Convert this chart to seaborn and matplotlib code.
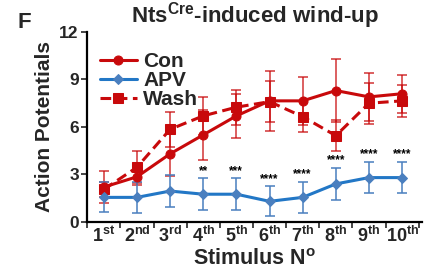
import matplotlib
matplotlib.use("Agg")
import matplotlib.pyplot as plt
import numpy as np
import pandas as pd
import seaborn as sns

sns.set_theme(style="ticks")
plt.rcParams["font.family"] = ["Liberation Sans", "DejaVu Sans"]
plt.rcParams["font.weight"] = "bold"
plt.rcParams["mathtext.fontset"] = "custom"
plt.rcParams["mathtext.rm"] = "Liberation Sans:bold"
plt.rcParams["mathtext.bf"] = "Liberation Sans:bold"
plt.rcParams["mathtext.it"] = "Liberation Sans:bold"
plt.rcParams["mathtext.default"] = "rm"

# ---- data ----
stim = list(range(1, 11))
tick_labels = ["1$^{st}$", "2$^{nd}$", "3$^{rd}$", "4$^{th}$", "5$^{th}$",
               "6$^{th}$", "7$^{th}$", "8$^{th}$", "9$^{th}$", "10$^{th}$"]
con_mean = [2.2, 2.85, 4.3, 5.5, 6.7, 7.65, 7.65, 8.3, 7.9, 8.1]
con_sem = [1.0, 0.5, 1.4, 1.6, 1.4, 1.9, 1.5, 2.0, 1.5, 1.2]
apv_mean = [1.55, 1.55, 1.95, 1.75, 1.75, 1.3, 1.55, 2.4, 2.8, 2.8]
apv_sem = [0.95, 1.0, 1.0, 1.0, 1.0, 0.95, 1.0, 1.0, 1.0, 1.0]
wash_mean = [2.05, 3.45, 5.85, 6.7, 7.25, 7.6, 6.65, 5.45, 7.5, 7.65]
wash_sem = [0.5, 1.0, 1.1, 1.2, 1.1, 1.3, 1.0, 1.0, 1.3, 1.0]
stars = ["", "", "", "**", "***", "****", "****", "****", "****", "****"]

RED = "#c8090b"
BLUE = "#2277c6"
BLUE_M = "#4a7fbf"

df = pd.DataFrame({"stim": stim * 3,
                   "ap": con_mean + apv_mean + wash_mean,
                   "grp": ["Con"] * 10 + ["APV"] * 10 + ["Wash"] * 10})

fig = plt.figure(figsize=(4.36, 2.76), dpi=100)
ax = fig.add_axes([0.2, 0.196, 0.768, 0.688])

# error bars first
ebkw = dict(fmt="none", elinewidth=1.3, capsize=3.5, capthick=1.3, zorder=2)
ax.errorbar(stim, con_mean, yerr=con_sem, ecolor=RED, alpha=0.7, **ebkw)
ax.errorbar(stim, wash_mean, yerr=wash_sem, ecolor=RED, alpha=0.7, **ebkw)
ax.errorbar(stim, apv_mean, yerr=apv_sem, ecolor=BLUE_M, alpha=0.85, **ebkw)

sns.lineplot(data=df[df.grp == "Con"], x="stim", y="ap", ax=ax, color=RED,
             lw=2.2, marker="o", ms=6.5, mec=RED, label="Con", zorder=4)
sns.lineplot(data=df[df.grp == "APV"], x="stim", y="ap", ax=ax, color=BLUE,
             lw=2.2, marker="D", ms=5.5, mfc=BLUE_M, mec=BLUE_M, label="APV", zorder=4)
sns.lineplot(data=df[df.grp == "Wash"], x="stim", y="ap", ax=ax, color=RED,
             lw=2.2, marker="s", ms=6.5, mec=RED, label="Wash", zorder=3)
ax.lines[-1].set_dashes([3.5, 1.8])

for x, m, e, s in zip(stim, apv_mean, apv_sem, stars):
    if s:
        ax.text(x, m + e + 0.1, s, ha="center", va="bottom", fontsize=8.5,
                fontweight="bold", color="black")

ax.set_xlim(0.5, 10.6)
ax.set_ylim(0, 12)
ax.set_yticks([0, 3, 6, 9, 12])
ax.set_xticks(np.arange(0.5, 11, 1))
ax.set_xticklabels([])
ax.set_xticks(stim, minor=True)
ax.set_xticklabels(tick_labels, minor=True)
ax.tick_params(axis="x", which="minor", length=0, labelsize=13, pad=3)
ax.tick_params(axis="x", which="major", length=4, width=1.2, direction="out")
ax.tick_params(axis="y", length=4, width=1.2, labelsize=12.5, pad=2)
for lab in ax.get_xticklabels(minor=True) + ax.get_yticklabels():
    lab.set_fontweight("bold")
sns.despine(ax=ax)
for sp in ["left", "bottom"]:
    ax.spines[sp].set_linewidth(1.6)
    ax.spines[sp].set_color("black")

ax.set_xlabel("Stimulus N$^{o}$", fontsize=15.5, fontweight="bold", labelpad=2)
ax.set_ylabel("Action Potentials", fontsize=15, fontweight="bold", labelpad=4)
ax.set_title("Nts$^{Cre}$-induced wind-up", fontsize=16, fontweight="bold", pad=7)
fig.text(0.04, 0.9, "F", fontsize=16, fontweight="bold")

leg = ax.legend(loc="upper left", bbox_to_anchor=(0.0, 0.96), frameon=False,
                prop={"size": 15, "weight": "bold"}, handlelength=1.8,
                handletextpad=0.3, labelspacing=0.0, borderaxespad=0.2)

fig.savefig("out.png", dpi=100)
